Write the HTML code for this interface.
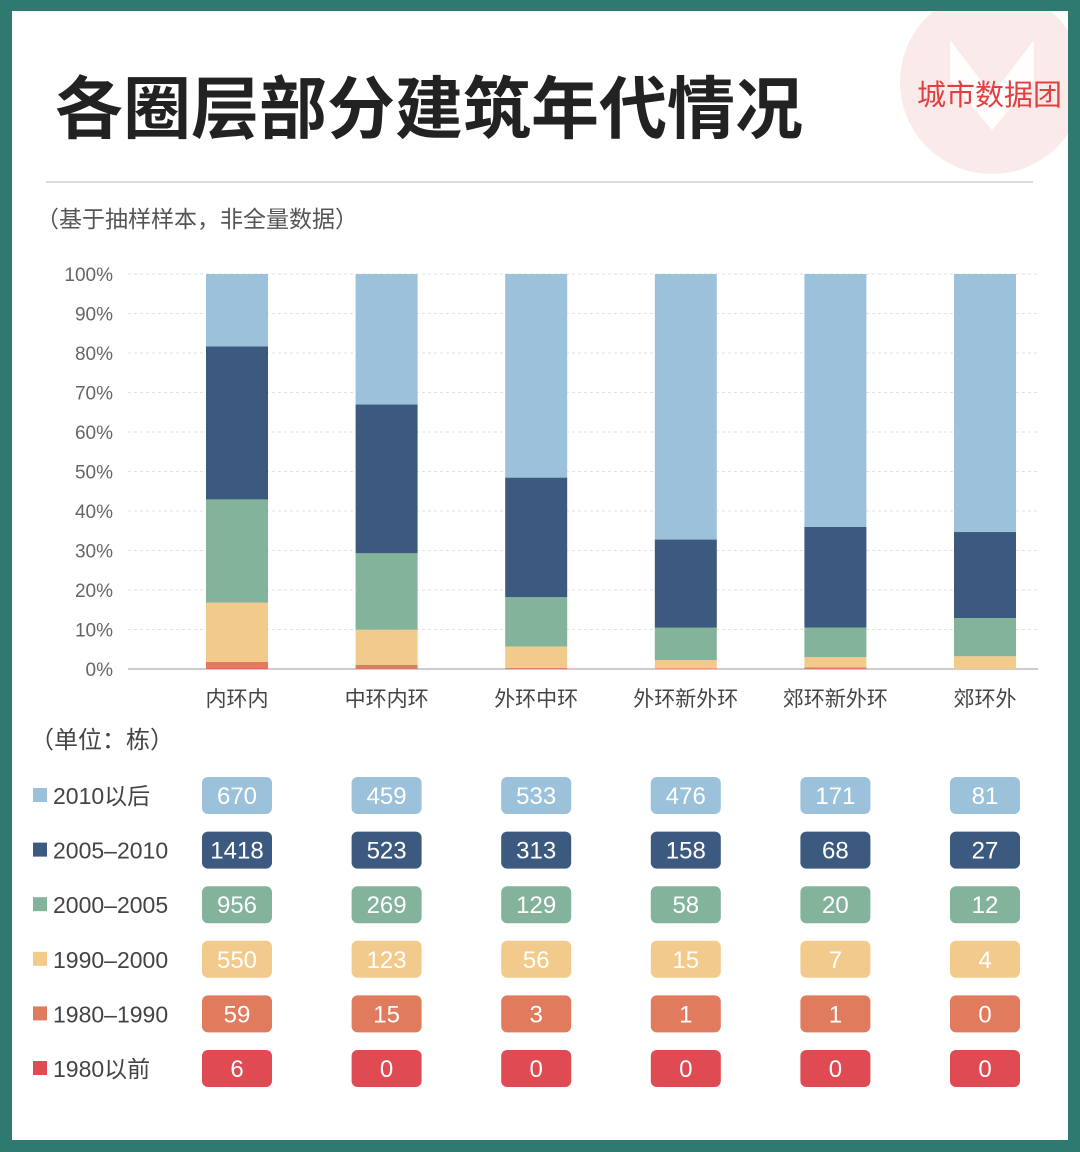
<!DOCTYPE html>
<html><head><meta charset="utf-8"><style>
body{margin:0;width:1080px;height:1152px;background:#2e7a70;font-family:"Liberation Sans","Noto Sans CJK SC",sans-serif;overflow:hidden}
#card{position:absolute;left:12px;top:11px;width:1056px;height:1129px;background:#fff;overflow:hidden}
</style></head><body>
<div id="card">
<svg id="svg" width="1056" height="1129" viewBox="12 11 1056 1129" style="position:absolute;left:0;top:0">
<circle cx="992" cy="82" r="92" fill="#fbeaea"/>
<path d="M950 40 L992 95 L1034 40 L1034 80 L992 130 L950 80 Z" fill="#fff" opacity="0.9"/>
<text x="917" y="105" font-size="29" fill="#e04040">城市数据团</text>
<text x="55" y="133" font-size="68" font-weight="bold" fill="#222">各圈层部分建筑年代情况</text>
<line x1="46" y1="182" x2="1033" y2="182" stroke="#ddd" stroke-width="2"/>
<text x="36" y="227" font-size="23" fill="#555">（基于抽样样本，非全量数据）</text>
<text x="30" y="748" font-size="24" fill="#444">（单位：栋）</text>
<g id="grid"></g><g id="bars"></g><g id="table"></g>
</svg>
</div>
<script>
const categories=["内环内","中环内环","外环中环","外环新外环","郊环新外环","郊环外"];
const seriesNames=["2010以后","2005-2010","2000-2005","1990-2000","1980-1990","1980以前"];
const s2010after=[670,459,533,476,171,81];
const s2005=[1418,523,313,158,68,27];
const s2000=[956,269,129,58,20,12];
const s1990=[550,123,56,15,7,4];
const s1980=[59,15,3,1,1,0];
const s1980before=[6,0,0,0,0,0];
const yTicks=[0,10,20,30,40,50,60,70,80,90,100];
const colors=["#9bc2da","#3c5a80","#83b39a","#f2cb8c","#e07b5e","#e04a52"];
const series=[s2010after,s2005,s2000,s1990,s1980,s1980before];
const NS="http://www.w3.org/2000/svg";
function mk(t,a,p){const e=document.createElementNS(NS,t);for(const k in a)e.setAttribute(k,a[k]);p.appendChild(e);return e;}
const y=v=>669-v*3.95;
const x=i=>237+i*149.6;
const grid=document.getElementById('grid'),bars=document.getElementById('bars'),tbl=document.getElementById('table');
yTicks.forEach(t=>{
  const l=mk('line',{x1:128,x2:1038,y1:y(t),y2:y(t),stroke:t?'#e2e2e2':'#ccc','stroke-width':t?1:2,'stroke-dasharray':t?'3,3':''},grid);
  
  
  const tx=mk('text',{x:113,y:y(t)+7,'text-anchor':'end','font-size':19,fill:'#666'},grid);
  tx.textContent=t+'%';
  
  
});
categories.forEach((c,i)=>{
  const total=series.reduce((s,a)=>s+a[i],0);
  let cum=0;
  for(let k=series.length-1;k>=0;k--){
    const v=series[k][i]/total*100;
    if(v>0){
      const r=mk('rect',{x:x(i)-31,width:62,y:y(cum+v),height:v*3.95,fill:colors[k]},bars);
      
      
    }
    cum+=v;
  }
  const lb=mk('text',{x:x(i),y:706,'text-anchor':'middle','font-size':21,fill:'#444'},bars);
  lb.textContent=c;
  
  
});
seriesNames.forEach((n,k)=>{
  const cy=795+k*54.6;
  const sq=mk('rect',{x:33,y:cy-7,width:14,height:14,fill:colors[k]},tbl);
  
  
  const t=mk('text',{x:53,y:cy+9,'font-size':23,fill:'#444'},tbl);
  t.textContent=n.replace('-','–');
  
  
  series[k].forEach((v,i)=>{
    const p=mk('rect',{x:x(i)-35,y:cy-18,width:70,height:37,rx:6,fill:colors[k]},tbl);
    
    
    const vt=mk('text',{x:x(i),y:cy+9,'text-anchor':'middle','font-size':24,fill:'#fff'},tbl);
    vt.textContent=v;
    
    
  });
});
</script>
</body></html>
